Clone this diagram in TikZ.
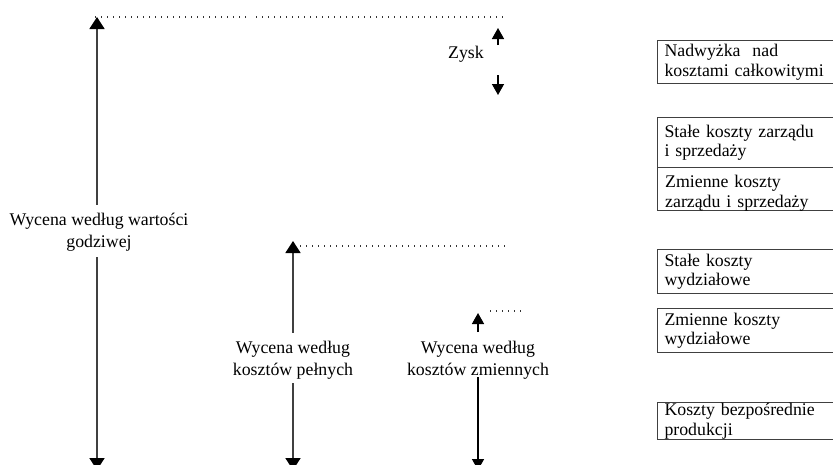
\documentclass[tikz,border=0pt]{standalone}
\usepackage{fontspec}
\setmainfont{Liberation Serif}
\usetikzlibrary{arrows.meta}
\begin{document}
\begin{tikzpicture}[x=1pt,y=-1pt,
  arr/.style={draw=black!75,line width=1.8pt,-{Triangle[width=15pt,length=12pt,color=black]}},
  sarr/.style={draw=black,line width=1.5pt,-{Triangle[width=12pt,length=11pt,color=black]}},
  dots/.style={draw=black!80,line width=1.2pt,dash pattern=on 1.4pt off 4.6pt},
  lab/.style={font=\fontsize{17.8}{22}\selectfont,align=center,inner sep=0pt},
  boxtext/.style={text width=186pt,align=left,inner sep=0pt,anchor=north west,
    font=\fontsize{17.8}{20}\selectfont},
  box/.style={draw=black!75,line width=1pt,anchor=north west,minimum width=200pt,
    text width=186pt,align=left,inner xsep=7pt,inner ysep=0pt,
    font=\fontsize{17.8}{19.5}\selectfont}]
\clip (0,0) rectangle (833,464);
\fill[white] (0,0) rectangle (833,464);
% coordinates
\coordinate (t1) at (97,17);
\coordinate (b1) at (97,470);
\coordinate (t2) at (293,241);
\coordinate (b2) at (293,470);
\coordinate (t3) at (478,313);
\coordinate (s3) at (478,332);
\coordinate (b3) at (478,470);
\coordinate (zt) at (498,28);
\coordinate (zs1) at (498,45);
\coordinate (zs2) at (498,75);
\coordinate (zb) at (498,95);
\coordinate (d1a) at (95,17);
\coordinate (d1b) at (249,17);
\coordinate (d1c) at (256,17);
\coordinate (d1d) at (506,17);
\coordinate (d2a) at (300,246);
\coordinate (d2b) at (506,246);
\coordinate (d3a) at (490,311);
\coordinate (d3b) at (521,311);
% labels
\node[lab] (lab1) at (99,232) {Wycena według wartości\\godziwej};
\node[lab] (lab2) at (293,360) {Wycena według\\kosztów pełnych};
\node[lab] (lab3) at (478,360) {Wycena według\\kosztów zmiennych};
\node[lab] (zysk) at (466,54) {Zysk};
% arrows
\draw[arr] (lab1.north -| t1) ++(0,-8) -- (t1);
\draw[arr] (lab1.south -| t1) ++(0,6) -- (b1);
\draw[arr] (lab2.north -| t2) ++(0,-8) -- (t2);
\draw[arr] (lab2.south -| t2) ++(0,4) -- (b2);
\draw[sarr] (s3) -- (t3);
\draw[sarr] (lab3.south -| t3) ++(0,-2) -- (b3);
\draw[sarr] (zs1) -- (zt);
\draw[sarr] (zs2) -- (zb);
% dotted lines
\draw[dots] (d1a) -- (d1b);
\draw[dots] (d1c) -- (d1d);
\draw[dots] (d2a) -- (d2b);
\draw[dots] (d3a) -- (d3b);
% boxes
\node[box,minimum height=43pt] (bx1) at (657,40) {Nadwyżka~ nad\\kosztami całkowitymi};
\node[box,minimum height=50pt] (bx2) at (657,117) {Stałe koszty zarządu\\i sprzedaży};
\node[box,minimum height=43pt] (bx3) at (657,167) {};
\node[boxtext] (bx3t) at (665,174.5) {Zmienne koszty\\zarządu i sprzedaży};
\node[box,minimum height=44pt] (bx4) at (657,249) {Stałe koszty\\wydziałowe};
\node[box,minimum height=44pt] (bx5) at (657,308) {Zmienne koszty\\wydziałowe};
\node[box,minimum height=37pt] (bx6) at (657,402) {Koszty bezpośrednie\\produkcji};
\end{tikzpicture}
\end{document}
